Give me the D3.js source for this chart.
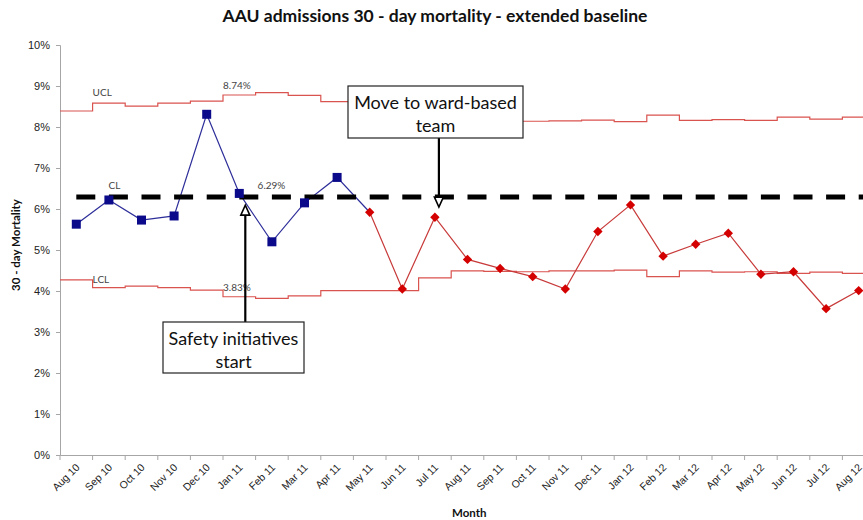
<!DOCTYPE html>
<html>
<head>
<meta charset="utf-8">
<script src="https://cdn.jsdelivr.net/npm/d3@7"></script>
<style>
  html, body { margin: 0; padding: 0; background: #fff; }
  svg { display: block; font-family: Lato, "Open Sans", sans-serif; }
</style>
</head>
<body>
<div id="chart"></div>
<script>
// Months on the x axis
const months = ["Aug 10", "Sep 10", "Oct 10", "Nov 10", "Dec 10", "Jan 11", "Feb 11", "Mar 11",
    "Apr 11", "May 11", "Jun 11", "Jul 11", "Aug 11", "Sep 11", "Oct 11", "Nov 11", "Dec 11",
    "Jan 12", "Feb 12", "Mar 12", "Apr 12", "May 12", "Jun 12", "Jul 12", "Aug 12"];

// 30-day mortality (%) per month
const mortality = [5.63, 6.22, 5.73, 5.83, 8.31, 6.38, 5.20, 6.15, 6.77, 5.92, 4.05, 5.80, 4.77,
    4.55, 4.35, 4.05, 5.45, 6.10, 4.85, 5.14, 5.41, 4.41, 4.47, 3.57, 4.01];

// control limits (%) per month
const ucl = [8.39, 8.58, 8.51, 8.58, 8.63, 8.78, 8.84, 8.77, 8.62, 8.62, 8.62, 8.28, 8.13,
    8.13, 8.14, 8.15, 8.17, 8.13, 8.29, 8.16, 8.18, 8.16, 8.24, 8.19, 8.24];
const lcl = [4.27, 4.08, 4.12, 4.08, 4.02, 3.86, 3.82, 3.88, 4.01, 4.01, 4.01, 4.32, 4.49,
    4.48, 4.47, 4.49, 4.49, 4.51, 4.35, 4.49, 4.46, 4.47, 4.43, 4.46, 4.43];
const centreLine = 6.29;

// baseline period = first 9 months (Aug 10 - Apr 11)
const baselineCount = 9;

const yTicks = [0, 1, 2, 3, 4, 5, 6, 7, 8, 9, 10];

const width = 863, height = 520;

const svg = d3.select("#chart").append("svg")
    .attr("width", width)
    .attr("height", height);

// scales (plot runs a little past the right edge, as in the original)
const x = d3.scaleBand().domain(months).range([60, 60 + months.length * 32.6]).padding(0);
const y = d3.scaleLinear().domain([0, 10]).range([455, 45]);
const cx = m => x(m) + x.bandwidth() / 2;

// title
svg.append("text")
    .attr("x", 435).attr("y", 22)
    .attr("text-anchor", "middle")
    .attr("font-size", 17.5).attr("font-weight", "bold")
    .attr("fill", "#111")
    .text("AAU admissions 30 - day mortality - extended baseline");

// y axis
const yAxis = svg.append("g")
    .attr("transform", "translate(60,0)")
    .call(d3.axisLeft(y).tickValues(yTicks).tickSize(4).tickPadding(6).tickFormat(d => d + "%"));
yAxis.select(".domain").attr("stroke", "#a6a6a6");
yAxis.selectAll(".tick line").attr("stroke", "#a6a6a6");
yAxis.selectAll("text").attr("font-size", 11).attr("fill", "#222");

svg.append("text")
    .attr("transform", "translate(20,245) rotate(-90)")
    .attr("text-anchor", "middle")
    .attr("font-size", 11.5).attr("font-weight", "bold")
    .attr("fill", "#111")
    .text("30 - day Mortality");

// x axis
const xAxis = svg.append("g")
    .attr("transform", "translate(0,455)")
    .call(d3.axisBottom(x).tickSize(0).tickPadding(0));
xAxis.select(".domain").attr("stroke", "#a6a6a6");
xAxis.selectAll("text")
    .attr("font-size", 10.5).attr("fill", "#222")
    .attr("text-anchor", "end")
    .attr("dy", null)
    .attr("transform", "translate(4,13) rotate(-45)");

// boundary tick marks between months
const bounds = months.map(m => x(m)).concat([x.range()[1]]);
svg.append("g").selectAll("line")
    .data(bounds)
    .join("line")
    .attr("x1", d => d).attr("x2", d => d)
    .attr("y1", 455).attr("y2", 460)
    .attr("stroke", "#a6a6a6");

svg.append("text")
    .attr("x", 452).attr("y", 517)
    .attr("font-size", 11.5).attr("font-weight", "bold")
    .attr("fill", "#111")
    .text("Month");

// control limits as step lines
const stepLine = d3.line()
    .x(d => d[0]).y(d => y(d[1]))
    .curve(d3.curveStepAfter);

function limitPoints(vals) {
    const pts = months.map((m, i) => [x(m), vals[i]]);
    pts.push([x.range()[1], vals[vals.length - 1]]);
    return pts;
}

[ucl, lcl].forEach(vals => {
    svg.append("path")
        .attr("d", stepLine(limitPoints(vals)))
        .attr("fill", "none")
        .attr("stroke", "#d9534f")
        .attr("stroke-width", 1.2);
});

// data lines
const line = d3.line().x(d => cx(d.m)).y(d => y(d.v));
const series = months.map((m, i) => ({ m, v: mortality[i] }));
const baseline = series.slice(0, baselineCount);
const after = series.slice(baselineCount);

svg.append("path")
    .attr("d", line(series.slice(0, baselineCount + 1)))
    .attr("fill", "none")
    .attr("stroke", "#2e2e9a")
    .attr("stroke-width", 1.2);

svg.append("path")
    .attr("d", line(after))
    .attr("fill", "none")
    .attr("stroke", "#c83a3a")
    .attr("stroke-width", 1.2);

// centre line
svg.append("line")
    .attr("x1", cx(months[0])).attr("x2", x.range()[1])
    .attr("y1", y(centreLine)).attr("y2", y(centreLine))
    .attr("stroke", "#000")
    .attr("stroke-width", 5)
    .attr("stroke-dasharray", "19 13.6");

// markers
svg.append("g").selectAll("rect")
    .data(baseline)
    .join("rect")
    .attr("x", d => cx(d.m) - 4.5).attr("y", d => y(d.v) - 4.5)
    .attr("width", 9).attr("height", 9)
    .attr("fill", "#0a0a8a");

svg.append("g").selectAll("path")
    .data(after)
    .join("path")
    .attr("d", d3.symbol(d3.symbolDiamond2, 56))
    .attr("transform", d => `translate(${cx(d.m)},${y(d.v)})`)
    .attr("fill", "#d40000");

// limit labels
const labels = [
    { t: "UCL", i: 1, v: ucl[1], dx: 0, dy: -7 },
    { t: "8.74%", i: 5, v: ucl[5], dx: 0, dy: -6 },
    { t: "CL", i: 1, v: centreLine, dx: 16, dy: -8 },
    { t: "6.29%", i: 6, v: centreLine, dx: 2, dy: -8 },
    { t: "LCL", i: 1, v: lcl[1], dx: 0, dy: -5 },
    { t: "3.83%", i: 5, v: lcl[5], dx: 0, dy: -6 }
];
svg.append("g").selectAll("text")
    .data(labels)
    .join("text")
    .attr("x", d => x(months[d.i]) + d.dx)
    .attr("y", d => y(d.v) + d.dy)
    .attr("font-size", 10)
    .attr("fill", "#444")
    .text(d => d.t);

// annotations
function annotation(lines, bx, by, bw, bh, ax, tipY, fromTop) {
    const g = svg.append("g");
    const startY = fromTop ? by + bh : by;
    const dir = tipY > startY ? 1 : -1;
    g.append("line")
        .attr("x1", ax).attr("x2", ax)
        .attr("y1", startY).attr("y2", tipY - dir * 2)
        .attr("stroke", "#000").attr("stroke-width", 2.2);
    g.append("path")
        .attr("d", `M${ax - 4.5},${tipY - dir * 10} L${ax + 4.5},${tipY - dir * 10} L${ax},${tipY} Z`)
        .attr("fill", "#fff").attr("stroke", "#000").attr("stroke-width", 1.6);
    g.append("rect")
        .attr("x", bx).attr("y", by).attr("width", bw).attr("height", bh)
        .attr("fill", "#fff").attr("stroke", "#222").attr("stroke-width", 1.2);
    g.append("text")
        .attr("x", bx + bw / 2).attr("y", by + 23)
        .attr("text-anchor", "middle")
        .attr("font-size", 18).attr("fill", "#111")
        .selectAll("tspan")
        .data(lines)
        .join("tspan")
        .attr("x", bx + bw / 2)
        .attr("dy", (d, i) => i ? 23 : 0)
        .text(d => d);
}

annotation(["Move to ward-based", "team"], 348, 86, 175, 52,
    cx("Jul 11") + 4, y(centreLine) + 10, true);
annotation(["Safety initiatives", "start"], 163, 322, 141, 51,
    cx("Jan 11") + 6, y(centreLine) + 8, false);
</script>
</body>
</html>
